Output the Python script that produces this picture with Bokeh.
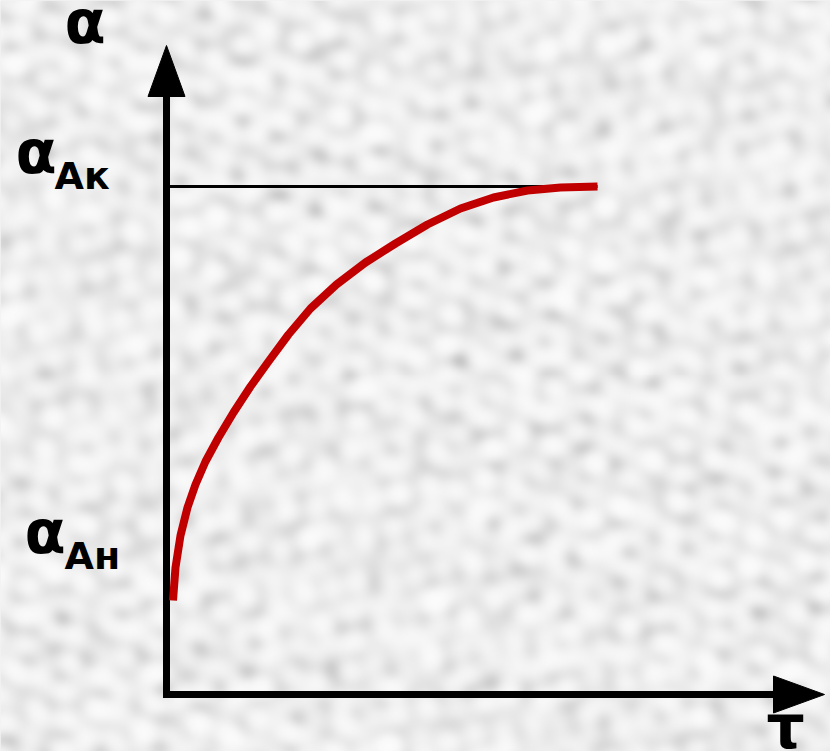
import numpy as np
from bokeh.plotting import figure
from bokeh.models import Range1d, Label
from bokeh.embed import file_html
from bokeh.resources import INLINE

# Adsorption kinetics: alpha rises from its initial value alpha_Ан
# towards the equilibrium value alpha_Ак as time tau grows.
tau = [0.13, 0.18, 0.28, 0.42, 0.58, 0.78, 1.04, 1.34, 1.68, 2.04, 2.44,
       2.88, 3.40, 3.98, 4.58, 5.22, 5.88, 6.54, 7.22, 7.88, 8.62]
alpha = [1.88, 2.54, 3.18, 3.74, 4.20, 4.66, 5.14, 5.64, 6.16, 6.66, 7.20,
         7.72, 8.20, 8.64, 9.02, 9.40, 9.72, 9.94, 10.08, 10.14, 10.16]

alpha_final = 10.16     # level of alpha_Ак
tau_axis_end = 13.16    # tip of the tau arrow
alpha_axis_end = 12.98  # tip of the alpha arrow
head_len = 1.02
head_half = 0.37

FONT = "DejaVu Sans"
INK = "#000000"
CURVE = "#c00000"
BG = "#e8e8e8"

X0, X1 = -3.32, 13.28
Y0, Y1 = -1.14, 13.88

p = figure(width=830, height=751, output_backend="svg", toolbar_location=None,
           x_range=Range1d(X0, X1), y_range=Range1d(Y0, Y1), min_border=0)
p.axis.visible = False
p.grid.visible = False
p.outline_line_color = None
p.background_fill_color = BG
p.border_fill_color = BG

# mottled paper backdrop: products of crossed waves at several angles
W, H = 415, 376
yy, xx = np.mgrid[0:H, 0:W].astype(float)
waves = [(0.21, 0.17, 0.3, 0.4), (0.13, 0.29, 1.1, 1.9), (0.33, 0.11, 2.0, 3.1),
         (0.09, 0.23, 2.7, 0.7), (0.27, 0.37, 0.8, 5.2), (0.41, 0.19, 1.6, 2.6),
         (0.15, 0.45, 2.4, 4.4), (0.06, 0.08, 0.5, 1.3)]
tex = np.zeros_like(xx)
for fu, fv, ang, ph in waves:
    u = xx * np.cos(ang) + yy * np.sin(ang)
    v = -xx * np.sin(ang) + yy * np.cos(ang)
    tex += np.sin(fu * u + ph) * np.sin(fv * v + 1.7 * ph)
tex = (tex - tex.min()) / (tex.max() - tex.min())
shade = (0.985 - 0.20 * tex ** 2.0) * 255
shade = shade.astype(np.uint32)
img = (255 << 24) | (shade << 16) | (shade << 8) | shade
p.image_rgba(image=[img.astype(np.uint32)], x=X0, y=Y0, dw=X1 - X0, dh=Y1 - Y0)

# axes with arrow heads
p.segment(x0=[0, -0.07], y0=[-0.07, 0], x1=[0, tau_axis_end - head_len],
          y1=[alpha_axis_end - head_len, 0], line_color=INK, line_width=7)
p.patch([-head_half, head_half, 0],
        [alpha_axis_end - head_len, alpha_axis_end - head_len, alpha_axis_end],
        fill_color=INK, line_color=INK)
p.patch([tau_axis_end - head_len, tau_axis_end - head_len, tau_axis_end],
        [-head_half, head_half, 0], fill_color=INK, line_color=INK)

# equilibrium level
p.segment(x0=[0.06], y0=[alpha_final], x1=[tau[-1]], y1=[alpha_final],
          line_color=INK, line_width=3)

# kinetic curve
p.line(tau, alpha, line_color=CURVE, line_width=8, line_join="round")

def add_label(x, y, text, size):
    p.add_layout(Label(x=x, y=y, text=text, text_font=FONT, text_font_style="bold",
                       text_font_size=size, text_color=INK,
                       text_baseline="alphabetic", text_align="left"))

add_label(-2.04, 13.46, "α", "60px")
add_label(-3.02, 10.86, "α", "60px")
add_label(-2.24, 10.38, "Ак", "38px")
add_label(-2.84, 3.26, "α", "60px")
add_label(-2.04, 2.78, "Ан", "38px")
add_label(12.0, -0.64, "τ", "60px")

open("out.html", "w").write(file_html(p, INLINE))
